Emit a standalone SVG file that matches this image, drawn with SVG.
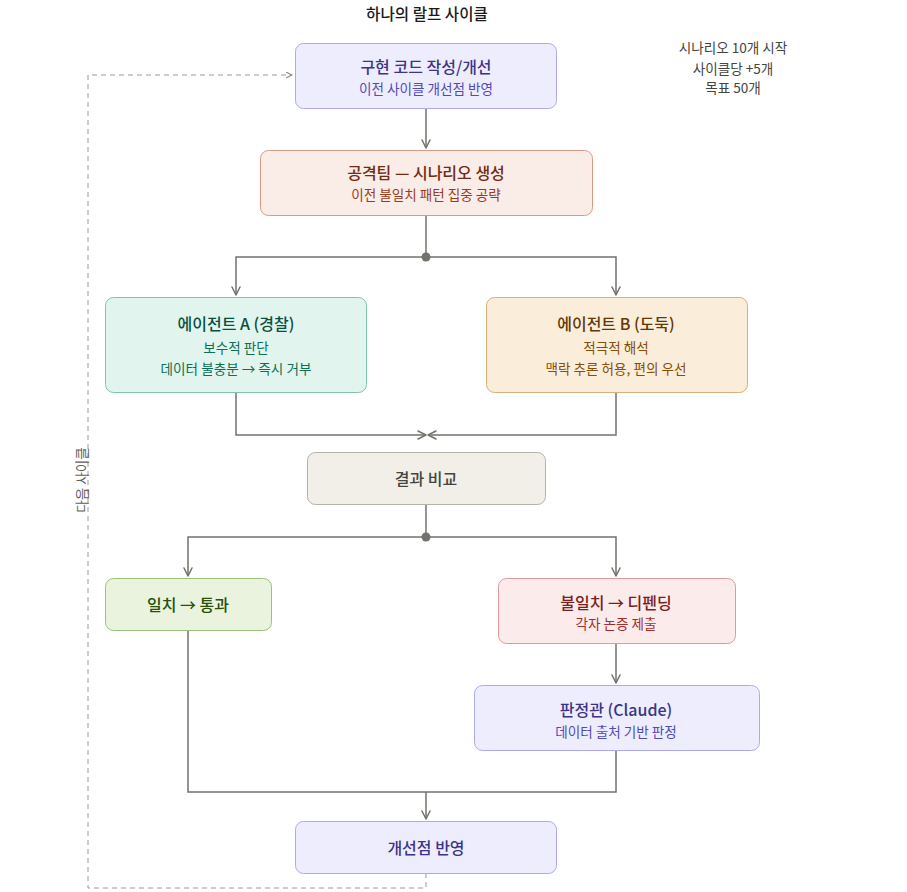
<svg xmlns="http://www.w3.org/2000/svg" width="907" height="892" viewBox="0 0 907 892">
<defs>
<marker id="arr" viewBox="0 0 10 10" refX="9" refY="5" markerWidth="10" markerHeight="10" markerUnits="userSpaceOnUse" orient="auto">
<path d="M1 1 L9 5 L1 9" fill="none" stroke="#73726c" stroke-width="1.5" stroke-linecap="round" stroke-linejoin="round"/>
</marker>
<marker id="arrs" viewBox="0 0 10 10" refX="9" refY="5" markerWidth="7" markerHeight="7" markerUnits="userSpaceOnUse" orient="auto">
<path d="M1 1 L9 5 L1 9" fill="none" stroke="#888780" stroke-width="1.5" stroke-linecap="round" stroke-linejoin="round"/>
</marker>
</defs>
<style>
text{font-family:"Noto Sans CJK KR","Noto Sans",sans-serif;text-anchor:middle;dominant-baseline:central}
.t{font-size:16px;font-weight:500}
.s{font-size:13.6px}
.ln{fill:none;stroke:#73726c;stroke-width:1.5}
.dash{fill:none;stroke:#9a9a94;stroke-width:1;stroke-dasharray:5 4}
</style>
<rect width="907" height="892" fill="#ffffff"/>
<text x="427" y="13" style="font-size:15.6px;font-weight:500" fill="#1a1a1a">하나의 랄프 사이클</text>
<g id="note" fill="#444441">
<text x="733" y="47" class="s">시나리오 10개 시작</text>
<text x="733" y="68" class="s">사이클당 +5개</text>
<text x="733" y="87" class="s">목표 50개</text>
</g>
<g id="connectors">
<line class="ln" x1="426" y1="108" x2="426" y2="148" marker-end="url(#arr)"/>
<line class="ln" x1="426" y1="215" x2="426" y2="257"/>
<path class="ln" d="M426 257 H236 V295" marker-end="url(#arr)"/>
<path class="ln" d="M426 257 H616 V295" marker-end="url(#arr)"/>
<circle cx="426" cy="257" r="4.5" fill="#73726c"/>
<path class="ln" d="M236 392 V435 H426" marker-end="url(#arr)"/>
<path class="ln" d="M616 392 V435 H428" marker-end="url(#arr)"/>
<line class="ln" x1="426" y1="504" x2="426" y2="537"/>
<path class="ln" d="M426 537 H188 V576" marker-end="url(#arr)"/>
<path class="ln" d="M426 537 H616 V576" marker-end="url(#arr)"/>
<circle cx="426" cy="537" r="4.5" fill="#73726c"/>
<line class="ln" x1="616" y1="643" x2="616" y2="683" marker-end="url(#arr)"/>
<path class="ln" d="M188 630 V792 H616 V750"/>
<line class="ln" x1="426" y1="792" x2="426" y2="819" marker-end="url(#arr)"/>
<path class="dash" d="M426 873 V888 H88 V75 H292" marker-end="url(#arrs)"/>
<text x="81" y="480" transform="rotate(-90 81 480)" class="s" fill="#5f5e5a">다음 사이클</text>
</g>
<g id="n1">
<rect x="295.5" y="43.5" width="261" height="65" rx="8" fill="#EEEDFE" stroke="#AFA9EC"/>
<text x="426" y="66" class="t" fill="#3C3489">구현 코드 작성/개선</text>
<text x="426" y="88" class="s" fill="#534AB7">이전 사이클 개선점 반영</text>
</g>
<g id="n2">
<rect x="260.5" y="150.5" width="332" height="65" rx="8" fill="#FAECE7" stroke="#DC9A84"/>
<text x="426" y="172" class="t" fill="#712B13">공격팀 — 시나리오 생성</text>
<text x="426" y="194" class="s" fill="#993C1D">이전 불일치 패턴 집중 공략</text>
</g>
<g id="nA">
<rect x="105.5" y="297.5" width="261" height="95" rx="8" fill="#E1F5EE" stroke="#7FC4AA"/>
<text x="236" y="323" class="t" fill="#085041">에이전트 A (경찰)</text>
<text x="236" y="347" class="s" fill="#0F6E56">보수적 판단</text>
<text x="236" y="368" class="s" fill="#0F6E56">데이터 불충분 → 즉시 거부</text>
</g>
<g id="nB">
<rect x="486.5" y="297.5" width="261" height="95" rx="8" fill="#FAEEDA" stroke="#D9AE77"/>
<text x="616" y="323" class="t" fill="#633806">에이전트 B (도둑)</text>
<text x="616" y="347" class="s" fill="#854F0B">적극적 해석</text>
<text x="616" y="368" class="s" fill="#854F0B">맥락 추론 허용, 편의 우선</text>
</g>
<g id="nC">
<rect x="307.5" y="452.5" width="238" height="52" rx="8" fill="#F1EFE8" stroke="#B4B2A9"/>
<text x="426" y="478" class="t" fill="#444441">결과 비교</text>
</g>
<g id="nP">
<rect x="105.5" y="578.5" width="166" height="52" rx="8" fill="#EAF3DE" stroke="#9CC27A"/>
<text x="188" y="604" class="t" fill="#27500A">일치 → 통과</text>
</g>
<g id="nF">
<rect x="498.5" y="578.5" width="237" height="65" rx="8" fill="#FCEBEB" stroke="#E0999A"/>
<text x="616" y="602" class="t" fill="#791F1F">불일치 → 디펜딩</text>
<text x="616" y="623" class="s" fill="#A32D2D">각자 논증 제출</text>
</g>
<g id="nJ">
<rect x="474.5" y="685.5" width="285" height="65" rx="8" fill="#EEEDFE" stroke="#AFA9EC"/>
<text x="616" y="709" class="t" fill="#3C3489">판정관 (Claude)</text>
<text x="616" y="731" class="s" fill="#534AB7">데이터 출처 기반 판정</text>
</g>
<g id="nR">
<rect x="295.5" y="821.5" width="261" height="52" rx="8" fill="#EEEDFE" stroke="#AFA9EC"/>
<text x="426" y="847" class="t" fill="#3C3489">개선점 반영</text>
</g>
</svg>
